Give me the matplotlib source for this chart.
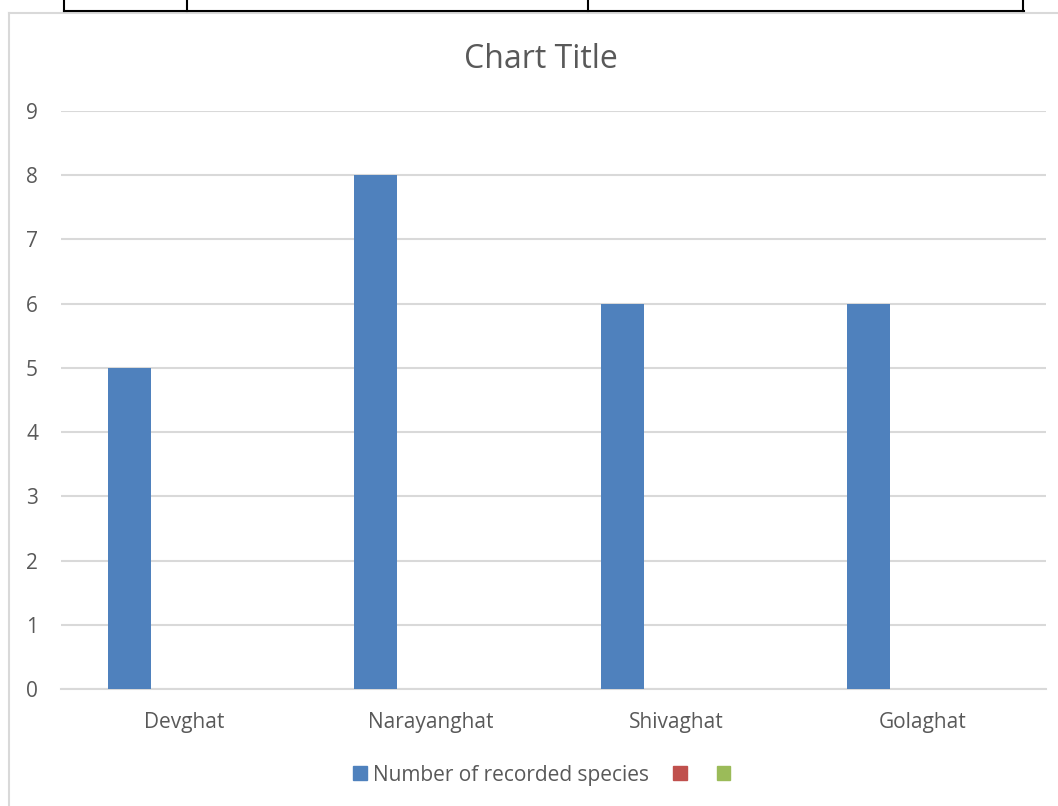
import numpy as np
import matplotlib.pyplot as plt
from matplotlib.lines import Line2D
from matplotlib.patches import Patch

plt.rcParams['font.family'] = ['Open Sans', 'DejaVu Sans']

sites = ['Devghat', 'Narayanghat', 'Shivaghat', 'Golaghat']
species = [5, 8, 6, 6]
series2 = [0, 0, 0, 0]
series3 = [0, 0, 0, 0]
series_names = ['Number of recorded species', '', '']
colors = ['#4F81BD', '#C0504D', '#9BBB59']
yticks = list(range(0, 10))

W, H = 1058, 806
fig = plt.figure(figsize=(W / 100, H / 100), dpi=100)
ax = fig.add_axes([61 / W, 1 - 689 / H, (1046 - 61) / W, (689 - 111) / H])

x = np.arange(len(sites))
bw = 0.175
for i, (vals, c) in enumerate(zip([species, series2, series3], colors)):
    ax.bar(x - 0.2215 + i * bw, vals, width=bw, color=c, zorder=3)

ax.set_xlim(-0.5, len(sites) - 0.5)
ax.set_ylim(0, 9)
ax.set_yticks(yticks)
ax.set_xticks(x)
ax.set_xticklabels(sites)
ax.tick_params(length=0, labelsize=15, colors='#595959')
ax.tick_params(axis='y', pad=16.5)
ax.tick_params(axis='x', pad=16.5)
ax.grid(axis='y', color='#D9D9D9', lw=1.5, zorder=0)
for s in ['top', 'right', 'left']:
    ax.spines[s].set_visible(False)
ax.spines['bottom'].set_color('#D9D9D9')
ax.spines['bottom'].set_linewidth(1.5)

fig.text(541 / W, 1 - 59 / H, 'Chart Title', ha='center', va='center',
         fontsize=23, color='#595959')

handles = [Patch(color=c) for c in colors]
fig.legend(handles, series_names, loc='center', bbox_to_anchor=(545 / W, 1 - 775 / H),
           ncol=3, frameon=False, fontsize=15, labelcolor='#595959',
           handlelength=0.65, handleheight=0.65, handletextpad=0.3, columnspacing=1.15)

# chart area border and table above
fig.add_artist(Line2D([9 / W, 9 / W], [0, 1 - 13 / H], color='#D9D9D9', lw=1.5))
fig.add_artist(Line2D([9 / W, 1], [1 - 13 / H, 1 - 13 / H], color='#D9D9D9', lw=1.5))
fig.add_artist(Line2D([64 / W, 1024 / W], [1 - 11 / H, 1 - 11 / H], color='black', lw=1.5))
for xv in [64, 187, 588, 1023]:
    fig.add_artist(Line2D([xv / W, xv / W], [1 - 11 / H, 1], color='black', lw=1.5))

fig.savefig('out.png', dpi=100)
